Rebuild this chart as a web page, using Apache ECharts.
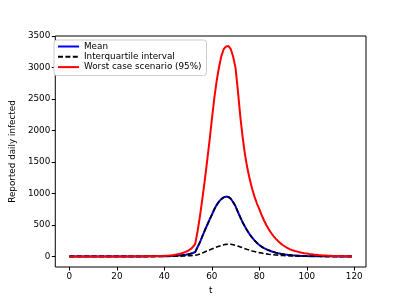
<!DOCTYPE html>
<html>
<head>
<meta charset="utf-8">
<script src="https://cdn.jsdelivr.net/npm/echarts@6/dist/echarts.min.js"></script>
<style>
html,body{margin:0;padding:0;background:#fff;}
#chart{width:407px;height:300px;}
</style>
</head>
<body>
<div id="chart"></div>
<script>
// Daily values, t = 0 .. 119
const meanValues = [
  0,0,0,0,0,0,0,0,0,0,
  0,0,0,0,0,0,0,0,0,0,
  0,0,0,0,0,0,0,0,0,0,
  0,0,0,1,1,1,2,2,3,3,
  4,5,6,8,10,12,15,19,23,28,
  35,43,55,70,150,225,320,410,495,580,
  660,745,815,870,910,938,950,945,915,860,
  795,705,620,540,470,405,348,298,255,215,
  182,153,132,113,97,83,70,59,50,42,
  36,30,25,21,17,14,12,10,8,7,
  5,4,3,3,2,2,2,1,1,1,
  1,1,0,0,0,0,0,0,0,0
];
const iqrLowerValues = [
  0,0,0,0,0,0,0,0,0,0,
  0,0,0,0,0,0,0,0,0,0,
  0,0,0,0,0,0,0,0,0,0,
  0,0,0,0,0,0,0,0,0,0,
  0,1,1,2,2,3,4,5,6,8,
  10,12,15,19,28,40,54,70,86,102,
  118,133,148,162,175,185,192,195,193,186,
  176,164,151,137,123,110,98,87,77,68,
  60,53,46,40,35,31,27,23,20,17,
  15,13,11,9,8,7,6,5,4,3,
  3,2,2,2,2,2,1,1,1,1,
  1,0,0,0,0,0,0,0,0,0
];
const iqrUpperValues = [
  0,0,0,0,0,0,0,0,0,0,
  0,0,0,0,0,0,0,0,0,0,
  0,0,0,0,0,0,0,0,0,0,
  0,0,0,1,1,1,2,2,3,3,
  4,5,6,8,10,12,15,19,23,28,
  35,43,55,70,150,225,320,410,495,580,
  660,745,815,870,910,938,950,945,915,860,
  795,705,620,540,470,405,348,298,255,215,
  182,153,132,113,97,83,70,59,50,42,
  36,30,25,21,17,14,12,10,8,7,
  5,4,3,3,2,2,2,1,1,1,
  1,1,0,0,0,0,0,0,0,0
];
const worstValues = [
  0,0,0,0,0,0,0,0,0,0,
  0,0,0,0,0,0,0,0,0,0,
  0,0,0,0,0,0,1,1,1,1,
  1,1,2,2,3,3,4,5,6,8,
  10,12,15,19,24,30,37,46,58,72,
  90,115,150,200,400,640,910,1200,1510,1825,
  2170,2500,2780,3000,3180,3290,3335,3340,3290,3170,
  2990,2620,2220,1890,1610,1395,1220,1070,945,840,
  750,655,570,495,430,372,322,278,240,207,
  178,153,132,113,97,86,76,67,59,52,
  46,40,35,30,26,22,19,16,14,12,
  10,8,7,6,5,4,3,3,2,2
];
const xTicks = [0, 20, 40, 60, 80, 100, 120];
const yTicks = [0, 500, 1000, 1500, 2000, 2500, 3000, 3500];
const seriesNames = ['Mean', 'Interquartile interval', 'Worst case scenario (95%)'];

const pairs = arr => arr.map((v, i) => [i, v]);
const FONT = 'DejaVu Sans';

const chart = echarts.init(document.getElementById('chart'), null, {renderer: 'canvas'});
chart.setOption({
  animation: false,
  backgroundColor: '#fff',
  textStyle: {fontFamily: FONT},
  grid: {
    left: 51, right: 41, top: 36, bottom: 33,
    show: true, borderColor: '#000', borderWidth: 1, backgroundColor: 'transparent',
    containLabel: false
  },
  legend: {
    data: seriesNames,
    orient: 'vertical',
    left: 54, top: 40,
    padding: [2, 5, 4, 3],
    itemWidth: 21, itemHeight: 11, itemGap: 1.3,
    itemStyle: {opacity: 0},
    backgroundColor: '#fff',
    borderColor: '#cccccc', borderWidth: 1, borderRadius: 3,
    textStyle: {fontFamily: FONT, fontSize: 8.8, color: '#000'}
  },
  xAxis: {
    type: 'value', min: -5.95, max: 124.95,
    name: 't', nameLocation: 'middle', nameGap: 16,
    nameTextStyle: {fontFamily: FONT, fontSize: 8.8, color: '#000'},
    splitLine: {show: false},
    axisLine: {show: false, onZero: false},
    axisTick: {show: true, customValues: xTicks, length: 3.5, lineStyle: {color: '#000'}},
    axisLabel: {customValues: xTicks, margin: 5, fontFamily: FONT, fontSize: 8.8, color: '#000',
                formatter: v => String(v)}
  },
  yAxis: {
    type: 'value', min: -168, max: 3500,
    name: 'Reported daily infected', nameLocation: 'middle', nameGap: 35,
    nameTextStyle: {fontFamily: FONT, fontSize: 8.8, color: '#000'},
    splitLine: {show: false},
    axisLine: {show: false, onZero: false},
    axisTick: {show: true, customValues: yTicks, length: 3.5, lineStyle: {color: '#000'}},
    axisLabel: {customValues: yTicks, margin: 5, fontFamily: FONT, fontSize: 8.8, color: '#000',
                formatter: v => String(v), showMaxLabel: true}
  },
  series: [
    {name: seriesNames[0], type: 'line', data: pairs(meanValues), symbol: 'none', z: 2,
     lineStyle: {color: '#0000ff', width: 2}, itemStyle: {color: '#0000ff'}},
    {name: seriesNames[1], type: 'line', data: pairs(iqrLowerValues), symbol: 'none', z: 3,
     lineStyle: {color: '#000', width: 1.6, type: [5, 2.4]}, itemStyle: {color: '#000'}},
    {name: seriesNames[1], type: 'line', data: pairs(iqrUpperValues), symbol: 'none', z: 3,
     lineStyle: {color: '#000', width: 1.6, type: [5, 2.4]}, itemStyle: {color: '#000'}},
    {name: seriesNames[2], type: 'line', data: pairs(worstValues), symbol: 'none', z: 4,
     lineStyle: {color: '#ff0000', width: 2}, itemStyle: {color: '#ff0000'}}
  ]
});
</script>
</body>
</html>
